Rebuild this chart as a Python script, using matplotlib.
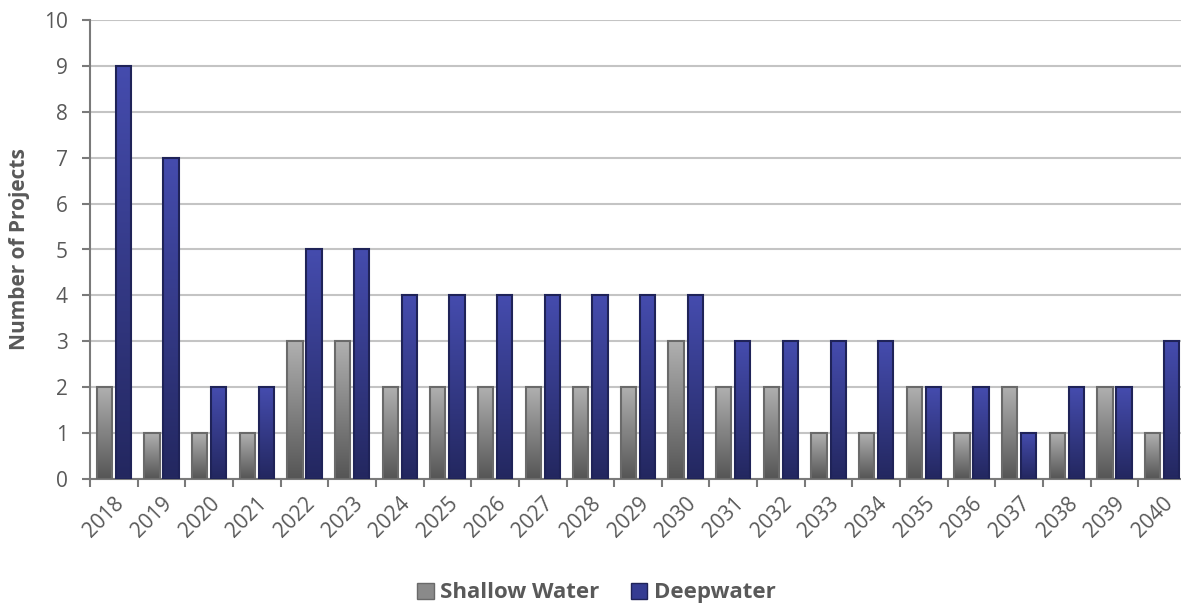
import numpy as np
import matplotlib.pyplot as plt
from matplotlib.colors import LinearSegmentedColormap
from matplotlib.patches import Patch

plt.rcParams['font.family'] = ['Open Sans', 'DejaVu Sans']

years = [str(y) for y in range(2018, 2041)]
shallow = [2, 1, 1, 1, 3, 3, 2, 2, 2, 2, 2, 2, 3, 2, 2, 1, 1, 2, 1, 2, 1, 2, 1]
deep = [9, 7, 2, 2, 5, 5, 4, 4, 4, 4, 4, 4, 4, 3, 3, 3, 3, 2, 2, 1, 2, 2, 3]

gray_cmap = LinearSegmentedColormap.from_list('g', ['#555555', '#b0b0b0'])
blue_cmap = LinearSegmentedColormap.from_list('b', ['#23275f', '#454cae'])
grad = np.linspace(0, 1, 256).reshape(-1, 1)

fig = plt.figure(figsize=(11.81, 6.05), dpi=100)
ax = fig.add_axes([90 / 1181, 126 / 605, 1096 / 1181, 459 / 605])

x = np.arange(len(years))
w = 0.32
off = 0.2


def grad_bars(xs, vals, cmap, edge):
    for xi, v in zip(xs, vals):
        ax.imshow(grad, extent=[xi - w / 2, xi + w / 2, 0, v], origin='lower',
                  aspect='auto', cmap=cmap, zorder=2)
    ax.bar(xs, vals, width=w, fill=False, edgecolor=edge, linewidth=1.5, zorder=3)


grad_bars(x - off, shallow, gray_cmap, '#6a6a6a')
grad_bars(x + off, deep, blue_cmap, '#1f2358')

ax.set_xlim(-0.5, len(years) - 0.5)
ax.set_ylim(0, 10)
ax.set_yticks(range(0, 11))
ax.yaxis.grid(True, color='#c4c4c4', linewidth=1.5, zorder=0)
ax.set_axisbelow(True)

ax.set_xticks(np.arange(len(years) + 1) - 0.5)
ax.set_xticklabels([])
ax.set_xticks(x, minor=True)
ax.set_xticklabels(years, minor=True, rotation=45, ha='right',
                   rotation_mode='anchor', fontsize=15, color='#595959')
ax.tick_params(axis='x', which='minor', length=0, pad=10)
ax.tick_params(axis='x', which='major', length=6, width=1.5, color='#7a7a7a')
ax.tick_params(axis='y', length=6, width=1.5, color='#7a7a7a', labelsize=15,
               labelcolor='#595959', pad=10)

for s in ['top', 'right']:
    ax.spines[s].set_visible(False)
for s in ['left', 'bottom']:
    ax.spines[s].set_color('#7a7a7a')
    ax.spines[s].set_linewidth(1.5)

ax.set_ylabel('Number of Projects', fontsize=15, fontweight='bold',
              color='#595959', labelpad=10)

handles = [Patch(facecolor='#8a8a8a', edgecolor='#6a6a6a', label='Shallow Water'),
           Patch(facecolor='#353c92', edgecolor='#1f2358', label='Deepwater')]
leg = fig.legend(handles=handles, loc='center', bbox_to_anchor=(0.505, 0.02),
                 ncol=2, frameon=False, handlelength=0.75, handleheight=0.75,
                 handletextpad=0.3, columnspacing=1.4,
                 prop={'size': 16, 'weight': 'bold'})
for t in leg.get_texts():
    t.set_color('#595959')

fig.savefig('out.png', dpi=100)
